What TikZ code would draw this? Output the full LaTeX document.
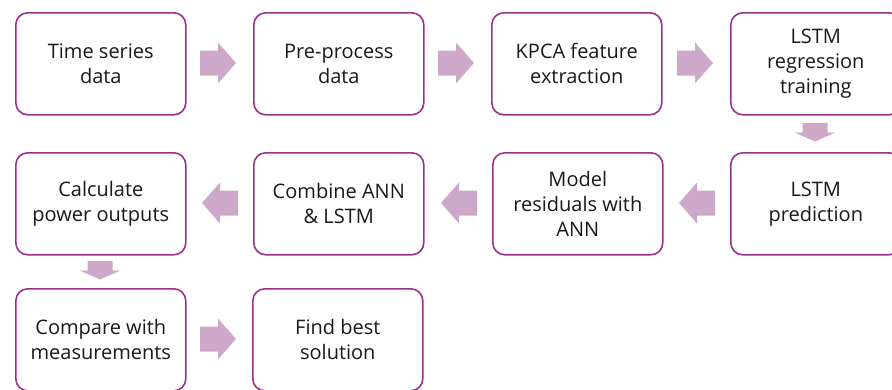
\documentclass[tikz,border=0pt]{standalone}
\usepackage{fontspec}
\setmainfont{Open Sans}
\definecolor{boxline}{RGB}{155,48,142}
\definecolor{arrowfill}{RGB}{206,168,201}
\definecolor{txt}{RGB}{25,25,25}
\begin{document}
\begin{tikzpicture}[x=1pt,y=-1pt,
  stepbox/.style={draw=boxline,line width=1.6pt,rounded corners=12pt,fill=white,
    minimum width=170pt,minimum height=102pt,inner sep=0pt,anchor=north west,
    text=txt,align=center,font=\fontsize{20}{25}\selectfont},
  blk/.style={fill=arrowfill,draw=none}]
\useasboundingbox (0,0) rectangle (892,389);
\clip (0,0) rectangle (892,389);
% row 1
\node[stepbox] (b1) at (15,12) {Time series\\data};
\node[stepbox] (b2) at (253,12) {Pre-process\\data};
\node[stepbox] (b3) at (491,12) {KPCA feature\\extraction};
\node[stepbox] (b4) at (730,12) {LSTM\\regression\\training};
% row 2
\node[stepbox] (b5) at (15,152) {Calculate\\power outputs};
\node[stepbox] (b6) at (253,152) {Combine ANN\\\& LSTM};
\node[stepbox] (b7) at (492,152) {Model\\residuals with\\ANN};
\node[stepbox] (b8) at (730,152) {LSTM\\prediction};
% row 3
\node[stepbox] (b9) at (15,288) {Compare with\\measurements};
\node[stepbox] (b10) at (252,288) {Find best\\solution};
% right arrows
\foreach \x/\y in {200/63, 438/63, 677/63, 200/339}{
  \fill[blk] (\x,\y-12.5) -- (\x+18,\y-12.5) -- (\x+18,\y-20.5) -- (\x+36,\y)
    -- (\x+18,\y+20.5) -- (\x+18,\y+12.5) -- (\x,\y+12.5) -- cycle;
}
% left arrows
\foreach \x/\y in {238/203, 477/203, 715/203}{
  \fill[blk] (\x,\y-12.5) -- (\x-18,\y-12.5) -- (\x-18,\y-20.5) -- (\x-36,\y)
    -- (\x-18,\y+20.5) -- (\x-18,\y+12.5) -- (\x,\y+12.5) -- cycle;
}
% down arrows
\foreach \x/\y in {815/123, 100/261}{
  \fill[blk] (\x-12.5,\y) -- (\x+12.5,\y) -- (\x+12.5,\y+9.5) -- (\x+20.5,\y+9.5)
    -- (\x,\y+18.5) -- (\x-20.5,\y+9.5) -- (\x-12.5,\y+9.5) -- cycle;
}
\end{tikzpicture}
\end{document}
